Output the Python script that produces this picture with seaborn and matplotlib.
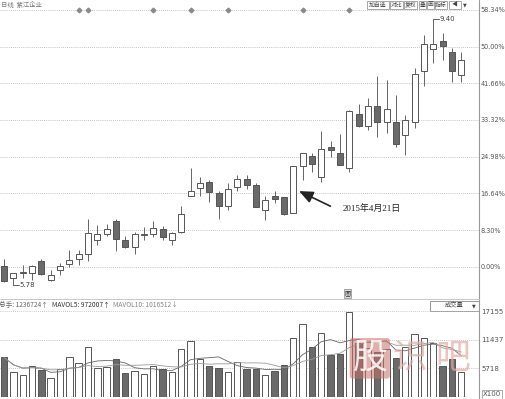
import numpy as np
import pandas as pd
import matplotlib
matplotlib.use("Agg")
import matplotlib.pyplot as plt
import seaborn as sns
from matplotlib.patches import Rectangle
from matplotlib.lines import Line2D

# ---------------- data ----------------
opens = [6.02, 5.85, 5.92, 5.93, 6.09, 5.83, 5.96, 6.04, 6.12, 6.18,
         6.37, 6.46, 6.63, 6.38, 6.28, 6.44, 6.45, 6.52, 6.37, 6.49,
         6.97, 7.08, 7.17, 7.02, 6.84, 7.10, 7.21, 7.12, 6.79, 6.98,
         6.96, 6.75, 7.39, 7.52, 7.24, 7.65, 7.56, 7.36, 8.10, 7.93,
         8.21, 7.99, 7.99, 7.81, 7.99, 8.69, 8.98, 9.10, 8.95, 8.63]
highs = [6.11, 5.93, 6.03, 6.03, 6.11, 5.96, 6.06, 6.24, 6.24, 6.66,
         6.58, 6.60, 6.66, 6.43, 6.48, 6.55, 6.63, 6.57, 6.49, 6.84,
         7.36, 7.24, 7.20, 7.05, 7.15, 7.26, 7.26, 7.15, 6.98, 7.05,
         6.96, 7.39, 7.57, 7.56, 7.86, 7.73, 7.83, 8.15, 8.24, 8.32,
         8.62, 8.56, 8.36, 8.08, 8.72, 9.18, 9.40, 9.21, 9.00, 8.95]
lows = [5.80, 5.78, 5.85, 5.83, 5.90, 5.82, 5.90, 6.01, 6.03, 6.09,
        6.31, 6.43, 6.22, 6.26, 6.19, 6.37, 6.42, 6.37, 6.31, 6.47,
        6.97, 6.98, 6.90, 6.66, 6.78, 7.05, 7.07, 6.82, 6.65, 6.88,
        6.72, 6.75, 7.20, 7.31, 7.17, 7.51, 7.40, 7.30, 7.92, 7.88,
        7.78, 7.84, 7.64, 7.54, 7.90, 8.48, 8.79, 8.84, 8.53, 8.54]
closes = [5.82, 5.93, 5.94, 6.02, 5.91, 5.90, 6.02, 6.10, 6.18, 6.47,
          6.45, 6.52, 6.39, 6.28, 6.46, 6.45, 6.54, 6.42, 6.47, 6.73,
          7.05, 7.16, 7.03, 6.84, 7.07, 7.21, 7.12, 6.82, 6.92, 6.94,
          6.73, 7.39, 7.56, 7.41, 7.62, 7.60, 7.40, 8.14, 7.93, 8.21,
          7.99, 8.17, 7.69, 8.02, 8.65, 9.06, 9.06, 9.02, 8.69, 8.84]
volumes = [7940, 5000, 4460, 6140, 5400, 3740, 5540, 8060, 6860, 9940,
           5740, 6060, 7540, 4860, 5200, 4540, 6200, 5540, 5000, 9540,
           11200, 7540, 6140, 5800, 5000, 6940, 5660, 5600, 4400, 5200,
           6400, 11740, 14740, 9940, 12740, 8400, 8540, 17060, 10860, 9800,
           9000, 9600, 7860, 10060, 12540, 11860, 10740, 6200, 7600, 4940]

base_price = 6.01
pct_labels = ["0.00%", "8.30%", "16.64%", "24.98%", "33.32%", "41.66%", "50.00%", "58.34%"]
pct_steps = [0, 8.34, 16.68, 25.02, 33.36, 41.70, 50.04, 58.38]
vol_ticks = [5718, 11437, 17155]
vol_labels = ["5718", "11437", "17155"]
marker_idx = [8, 9, 16, 20, 24, 32, 37]
arrow_idx = 31
high_label = "9.40"
low_label = "5.78"
date_label = "2015年4月21日"
header_parts = [("总手: 1236724↑", "#666", -1), ("MAVOL5: 972007↑", "#333", 52),
                ("MAVOL10: 1016512↓", "#888", 113)]

# ---------------- setup ----------------
sns.set_theme(style="white")
plt.rcParams["font.family"] = ["DejaVu Sans", "Noto Sans CJK SC"]
W, H = 505, 399
fig = plt.figure(figsize=(W / 100, H / 100), dpi=100)
fig.patch.set_facecolor("white")

def fx(px):
    return px / W

def fy(py):
    return 1 - py / H

n = len(opens)
idx = np.arange(n)
x_lo, x_hi = -0.43, 50.9

ax = fig.add_axes([0, fy(289), 479 / W, (289 - 9) / H])
axv = fig.add_axes([0, fy(397), 479 / W, (397 - 311) / H])

grid_kw = dict(color="#b0b0b0", lw=0.6, ls=(0, (1, 1.5)), zorder=0)

# ---------------- price panel ----------------
tick_prices = [base_price * (1 + p / 100) for p in pct_steps]
for tp in tick_prices:
    ax.axhline(tp, **grid_kw)

o = np.array(opens); c = np.array(closes)
hi = np.array(highs); lo = np.array(lows)
down = c < o
ax.vlines(idx, lo, hi, color="#666", lw=0.7, zorder=2)
body_bottom = np.minimum(o, c)
body_h = np.maximum(np.abs(c - o), 0.008)
face = ["#6a6a6a" if d else "white" for d in down]
ax.bar(idx, body_h, bottom=body_bottom, width=0.66, color=face,
       edgecolor="#555", linewidth=0.7, zorder=3)

ax.set_xlim(x_lo, x_hi)
ax.set_ylim(5.705, 9.532)
ax.set_yticks(tick_prices)
ax.set_yticklabels(pct_labels)
ax.yaxis.tick_right()
ax.tick_params(axis="y", length=0, pad=1.0, labelsize=4.7, labelcolor="#555")
ax.set_xticks([])
for s in ax.spines.values():
    s.set_visible(False)

# diamonds on top line
ax.plot(marker_idx, [tick_prices[-1]] * len(marker_idx), ls="none", marker="D",
        ms=2.4, color="#8a8a8a", clip_on=False, zorder=4)

# high / low labels
i_hi = int(np.argmax(hi)); i_lo = int(np.argmin(lo))
ax.plot([i_hi, i_hi + 0.6], [hi[i_hi], hi[i_hi]], color="#444", lw=0.6)
ax.text(i_hi + 0.7, hi[i_hi], high_label, fontsize=5, color="#444", va="center", ha="left")
ax.plot([i_lo, i_lo, i_lo + 0.6], [lo[i_lo], lo[i_lo] - 0.025, lo[i_lo] - 0.025], color="#444", lw=0.6)
ax.text(i_lo + 0.7, lo[i_lo] - 0.025, low_label, fontsize=5, color="#444", va="center", ha="left")

# date annotation
ax.annotate("", xy=(arrow_idx + 0.35, 7.06), xytext=(arrow_idx + 4.25, 6.82),
            arrowprops=dict(arrowstyle="-|>,head_length=0.7,head_width=0.3",
                            color="#222", lw=1.2))
ax.text(arrow_idx + 5.3, 6.81, date_label, fontsize=6.5, color="#222",
        family=["Liberation Serif", "Noto Sans CJK SC"], va="center", ha="left")

# ---------------- volume panel ----------------
df = pd.DataFrame({"idx": idx, "vol": volumes,
                   "dir": ["down" if d else "up" for d in down]})
for vt in vol_ticks[:2]:
    axv.axhline(vt, **grid_kw)
sns.barplot(data=df, x="idx", y="vol", hue="dir",
            palette={"up": "white", "down": "#6a6a6a"}, dodge=False,
            native_scale=True, width=0.68, edgecolor="#555", linewidth=0.7,
            legend=False, ax=axv, zorder=3)
ma5 = pd.Series(volumes).rolling(5, min_periods=1).mean()
ma10 = pd.Series(volumes).rolling(10, min_periods=1).mean()
sns.lineplot(x=idx, y=ma5.values, ax=axv, color="#666", lw=0.6, zorder=4)
sns.lineplot(x=idx, y=ma10.values, ax=axv, color="#999", lw=0.6, zorder=4)
axv.set_xlim(x_lo, x_hi)
axv.set_ylim(0, 17252)
axv.set_yticks(vol_ticks)
axv.set_yticklabels(vol_labels)
axv.yaxis.tick_right()
axv.tick_params(axis="y", length=0, pad=1.5, labelsize=5.0, labelcolor="#555")
axv.set_xticks([])
axv.set_xlabel(""); axv.set_ylabel("")
for s in axv.spines.values():
    s.set_visible(False)

# watermark
axv.text(0.772, 0.45, "股", transform=axv.transAxes, fontsize=25, color="white",
         alpha=0.85, ha="center", va="center", family=["Noto Sans CJK SC"],
         bbox=dict(boxstyle="round,pad=0.08", fc="#c8706a", ec="none", alpha=0.55), zorder=6)
axv.text(0.855, 0.45, "识", transform=axv.transAxes, fontsize=25, color="#e3aaa5",
         alpha=0.7, ha="center", va="center", family=["Noto Sans CJK SC"], zorder=6)
axv.text(0.945, 0.45, "吧", transform=axv.transAxes, fontsize=25, color="#e3aaa5",
         alpha=0.7, ha="center", va="center", family=["Noto Sans CJK SC"], zorder=6)

# ---------------- frame / chrome ----------------
fig.add_artist(Line2D([fx(479), fx(479)], [0, 1], color="#999", lw=0.8))
fig.add_artist(Line2D([0, fx(479)], [fy(299), fy(299)], color="#c8c8c8", lw=0.7))
fig.add_artist(Line2D([0, fx(479)], [fy(311), fy(311)], color="#b8b8b8", lw=0.6, ls=(0, (1, 1.5))))

fig.text(fx(1), fy(4.5), "日线  紫江企业", fontsize=4.6, color="#777", va="center",
         family=["Noto Sans CJK SC", "DejaVu Sans"])
buttons = [("加自选", 367, 389), ("对比", 390, 403), ("复权", 404, 417),
           ("叠", 419, 426), ("画", 427, 434), ("指标", 435, 447), ("◀", 449, 461)]
for label, x0, x1 in buttons:
    fig.add_artist(Rectangle((fx(x0), fy(9)), fx(x1 - x0), 8 / H, fill=False,
                             ec="#999", lw=0.6))
    fig.text(fx((x0 + x1) / 2), fy(5), label, fontsize=4.2, color="#444",
             ha="center", va="center", family=["Noto Sans CJK SC", "DejaVu Sans"])
fig.text(fx(465), fy(5), "▼", fontsize=3.5, color="#444", ha="center", va="center")

fig.text(fx(347.5), fy(293.5), "图", fontsize=4.5, color="#333", ha="center", va="center",
         family=["Noto Sans CJK SC"],
         bbox=dict(boxstyle="square,pad=0.1", fc="#ddd", ec="#888", lw=0.5))

for text, col, px in header_parts:
    fig.text(fx(px), fy(305), text, fontsize=4.8, color=col, va="center",
             family=["Noto Sans CJK SC", "DejaVu Sans"])

fig.add_artist(Rectangle((fx(430), fy(310.5)), fx(49), 10 / H, fill=False, ec="#888", lw=0.6))
fig.text(fx(454), fy(305.5), "成交量", fontsize=4.5, color="#444", ha="center", va="center",
         family=["Noto Sans CJK SC"])
fig.text(fx(474), fy(305.5), "▼", fontsize=3.5, color="#444", ha="center", va="center")

fig.text(fx(483), fy(394.5), "X100", fontsize=5, color="#555", va="center",
         bbox=dict(boxstyle="square,pad=0.15", fc="white", ec="#888", lw=0.5))

fig.savefig("out.png", dpi=100, facecolor="white")
